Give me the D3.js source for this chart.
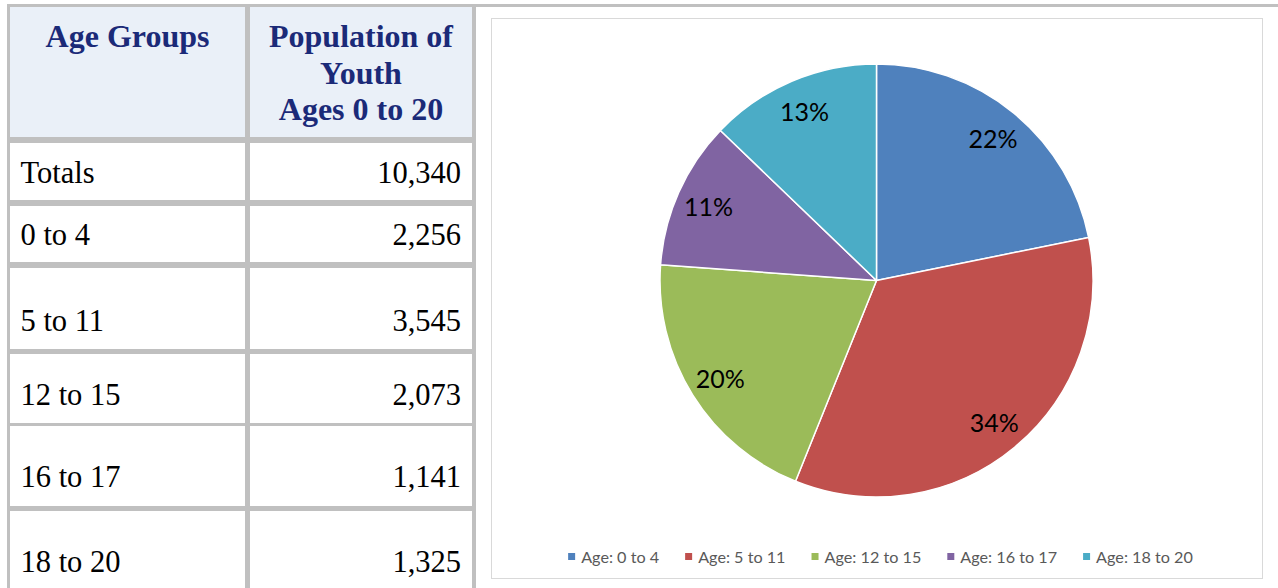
<!DOCTYPE html>
<html>
<head>
<meta charset="utf-8">
<script src="https://cdn.jsdelivr.net/npm/d3@7"></script>
<style>
  html, body { margin: 0; padding: 0; background: #ffffff; }
  svg { display: block; }
</style>
</head>
<body>
<svg id="view" width="1278" height="588"></svg>
<script>
// ---- data ----
const ageGroups = ["0 to 4", "5 to 11", "12 to 15", "16 to 17", "18 to 20"];
const youthPopulation = [2256, 3545, 2073, 1141, 1325];
const headerAgeGroups = "Age Groups";
const headerPopulation = ["Population of", "Youth", "Ages 0 to 20"];
const totalLabel = "Totals";
const legendPrefix = "Age: ";

// ---- styling ----
const sliceColors = ["#4F81BD", "#C0504D", "#9BBB59", "#8064A2", "#4BACC6"];
const gridGray = "#C0C0C0";
const headerFill = "#EAF0F8";
const headerInk = "#1B2A78";
const serif = "'Liberation Serif', 'Times New Roman', serif";
const sans = "Lato, 'Open Sans', sans-serif";

const svg = d3.select("#view");
const fmtNum = d3.format(",");
const fmtPct = d3.format(".0%");
const total = d3.sum(youthPopulation);

// ---- table ----
// column extents and row extents of the cells (gray shows through the gaps)
const colX = [[10, 245], [250, 472]];
const rowY = [[7, 137], [143, 200], [206, 262], [268, 349], [354, 423], [426, 506], [511, 620]];
const rowBaseline = [null, 183, 245, 331, 405, 487, 572];

const table = svg.append("g").attr("class", "table");
// frame: top rule runs across the page, table body gray behind cells
table.append("rect").attr("x", 7).attr("y", 4).attr("width", 1271).attr("height", 3).attr("fill", gridGray);
table.append("rect").attr("x", 7).attr("y", 4).attr("width", 469).attr("height", 600).attr("fill", gridGray);

const rows = [{ label: null, value: null }]
  .concat([{ label: totalLabel, value: total }])
  .concat(ageGroups.map((g, i) => ({ label: g, value: youthPopulation[i] })));

rows.forEach((r, i) => {
  const [y0, y1] = rowY[i];
  colX.forEach(([x0, x1]) => {
    table.append("rect")
      .attr("x", x0).attr("y", y0)
      .attr("width", x1 - x0).attr("height", y1 - y0)
      .attr("fill", i === 0 ? headerFill : "#ffffff");
  });
  if (i === 0) return;
  table.append("text")
    .attr("x", 20.5).attr("y", rowBaseline[i])
    .attr("font-family", serif).attr("font-size", 30.5).attr("fill", "#000")
    .text(r.label);
  table.append("text")
    .attr("x", 461).attr("y", rowBaseline[i])
    .attr("text-anchor", "end")
    .attr("font-family", serif).attr("font-size", 30.5).attr("fill", "#000")
    .text(fmtNum(r.value));
});

// header text
table.append("text")
  .attr("x", (colX[0][0] + colX[0][1]) / 2).attr("y", 47)
  .attr("text-anchor", "middle")
  .attr("font-family", serif).attr("font-weight", "bold").attr("font-size", 32)
  .attr("fill", headerInk)
  .text(headerAgeGroups);
table.append("g").selectAll("text")
  .data(headerPopulation)
  .join("text")
  .attr("x", (colX[1][0] + colX[1][1]) / 2)
  .attr("y", (d, i) => 47 + i * 36.5)
  .attr("text-anchor", "middle")
  .attr("font-family", serif).attr("font-weight", "bold").attr("font-size", 32)
  .attr("fill", headerInk)
  .text(d => d);

// ---- chart panel ----
const panel = { x: 491, y: 18, w: 771, h: 560 };
svg.append("rect")
  .attr("x", panel.x + 0.5).attr("y", panel.y + 0.5)
  .attr("width", panel.w).attr("height", panel.h)
  .attr("fill", "#ffffff").attr("stroke", "#D9D9D9").attr("stroke-width", 1);

const cx = 876.5, cy = 280.5, radius = 216.5;
const color = d3.scaleOrdinal().domain(ageGroups).range(sliceColors);

const pie = d3.pie().sort(null).value(d => d.value);
const arcs = pie(ageGroups.map((g, i) => ({ group: g, value: youthPopulation[i] })));
const arc = d3.arc().innerRadius(0).outerRadius(radius);
const labelArc = d3.arc().innerRadius(radius * 0.85).outerRadius(radius * 0.85);

const pieG = svg.append("g").attr("transform", `translate(${cx},${cy})`);
pieG.selectAll("path")
  .data(arcs)
  .join("path")
  .attr("d", arc)
  .attr("fill", d => color(d.data.group))
  .attr("stroke", "#ffffff")
  .attr("stroke-width", 1.5)
  .attr("stroke-linejoin", "round");

pieG.selectAll("text.pct")
  .data(arcs)
  .join("text")
  .attr("class", "pct")
  .attr("transform", d => `translate(${labelArc.centroid(d)})`)
  .attr("text-anchor", "middle")
  .attr("dominant-baseline", "central")
  .attr("font-family", sans).attr("font-size", 25)
  .attr("fill", "#000000")
  .text(d => fmtPct(d.data.value / total));

// ---- legend ----
const legendY = 556.5;
const legend = svg.append("g");
const items = legend.selectAll("g")
  .data(ageGroups)
  .join("g");
items.append("rect")
  .attr("width", 7).attr("height", 7)
  .attr("y", legendY - 3.5)
  .attr("fill", d => color(d));
items.append("text")
  .attr("x", 13).attr("y", legendY)
  .attr("dominant-baseline", "central")
  .attr("font-family", sans).attr("font-size", 16.2)
  .attr("fill", "#595959")
  .text(d => legendPrefix + d);

// lay out items side by side, centred in the panel
const gap = 26;
const widths = items.nodes().map(n => 13 + d3.select(n).select("text").node().getComputedTextLength());
const totalW = d3.sum(widths) + gap * (widths.length - 1);
let xPos = panel.x + panel.w / 2 - totalW / 2 + 4;
items.each(function (d, i) {
  d3.select(this).attr("transform", `translate(${xPos},0)`);
  xPos += widths[i] + gap;
});
</script>
</body>
</html>
